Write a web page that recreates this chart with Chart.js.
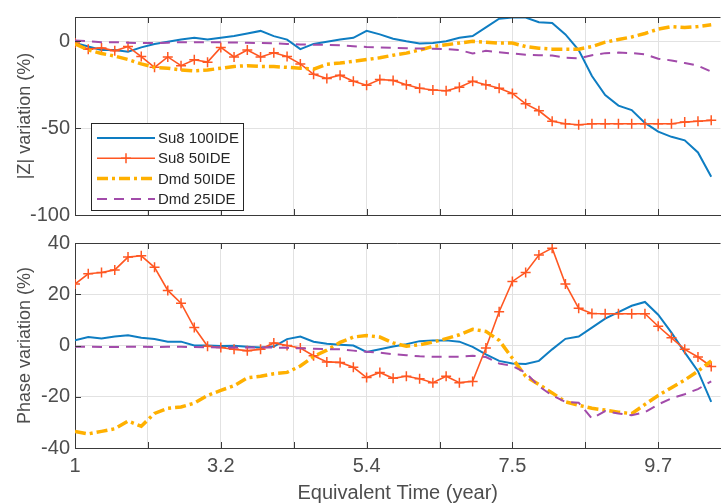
<!DOCTYPE html>
<html>
<head>
<meta charset="utf-8">
<script src="https://cdn.jsdelivr.net/npm/chart.js@4.4.1/dist/chart.umd.min.js"></script>
<style>
  body { margin: 0; background: #fff; }
  #wrap { position: relative; width: 727px; height: 503px; overflow: hidden; }
  #magBox { position: absolute; left: 0; top: 0; width: 727px; height: 232px; }
  #phaseBox { position: absolute; left: 0; top: 225px; width: 727px; height: 278px; }
</style>
</head>
<body>
<div id="wrap">
  <div id="magBox"><canvas id="magChart"></canvas></div>
  <div id="phaseBox"><canvas id="phaseChart"></canvas></div>
</div>
<script>
const years = [1.0, 1.2, 1.4, 1.6, 1.8, 2.0, 2.2, 2.4, 2.6, 2.8,
    3.0, 3.2, 3.4, 3.6, 3.8, 4.0, 4.2, 4.4, 4.6, 4.8,
    5.0, 5.2, 5.4, 5.6, 5.8, 6.0, 6.2, 6.4, 6.6, 6.8,
    7.0, 7.2, 7.4, 7.6, 7.8, 8.0, 8.2, 8.4, 8.6, 8.8,
    9.0, 9.2, 9.4, 9.6, 9.8, 10.0, 10.2, 10.4, 10.6];

const seriesNames = ['Su8 100IDE', 'Su8 50IDE', 'Dmd 50IDE', 'Dmd 25IDE'];

// |Z| variation (%)
const su8100Mag = [-1, -3, -5, -5, -6, -3.5, -1.5, -0.3, 1, 2,
    1, 2, 3, 4.5, 6, 3, 1, -4.5, -1.5, -0.3,
    1, 2, 6, 4, 1.5, 0, -1.3, -1, 0, 2,
    3, 8, 13, 13.7, 13.7, 11, 10.5, 4, -5, -20,
    -31, -37, -39.6, -47, -52, -55, -57, -64, -78];
const su850Mag = [-1, -4.5, -3.8, -5.5, -3, -8.8, -15, -9, -14, -10.6,
    -12, -3.5, -9, -5, -9, -6.6, -8.8, -13, -19, -21.4,
    -19.5, -23, -25.3, -22, -22.5, -25, -27, -28, -28.5, -26.5,
    -23, -25, -27, -30, -36, -40, -46, -47.5, -48, -47.5,
    -47.5, -47.5, -47.5, -47.5, -47.5, -47.5, -46.5, -46, -45.5];
const dmd50Mag = [-1.5, -5, -7, -8.5, -10.5, -13, -15, -15.5, -16.5, -17,
    -16.5, -15.5, -14.5, -14, -14.5, -14.5, -15, -15.5, -16, -13.2,
    -12.5, -11.5, -10.5, -9.5, -8, -6.8, -5, -3, -2, -1,
    0, -0.5, -1, -1, -3, -4, -4.5, -4.5, -4.5, -3,
    -0.5, 1, 2.5, 4.5, 7, 8.5, 8, 8.5, 9.5];
const dmd25Mag = [0.5, 0, -0.5, -0.5, -0.8, -1, -1, -0.8, -0.5, -0.5,
    -0.5, -0.6, -0.7, -0.8, -1, -1.2, -1.5, -1.8, -2, -2,
    -2.3, -2.8, -3.3, -3.5, -3.8, -4, -4.2, -4.3, -4.5, -5,
    -7, -5.5, -6.3, -7, -7.7, -8, -8.2, -9.5, -9.8, -8,
    -6.8, -6.5, -6.8, -7.5, -10, -11, -12.5, -14, -17.5];

// Phase variation (%)
const su8100Phase = [2, 3.3, 2.7, 3.5, 4, 3, 2.5, 1.5, 1.5, 0,
    0, -0.2, -0.1, -0.5, -0.8, -0.4, 2.5, 3.5, 1.5, 0.7,
    0.3, 0, -2.5, -1.5, -0.4, 0.5, 1.7, 2, 2, 1.5,
    -0.5, -3.5, -6, -7, -7.2, -6, -1.5, 2.6, 3.5, 7,
    10.5, 13, 15.5, 17, 12, 5, -2.7, -10, -22];
const su850Phase = [24, 28, 28.5, 29.5, 34.5, 35, 30.5, 21.5, 16.5, 7,
    -0.3, -0.8, -1.5, -2, -1.5, 1, 0, -1, -4, -6.4,
    -6.6, -8.5, -12.5, -10.5, -12.8, -12, -13, -14.5, -12, -14.5,
    -14, -1, 13.2, 25, 28.5, 35.3, 38, 24, 14.5, 12.5,
    12.4, 12.4, 12.4, 12.4, 7.5, 3, -1.5, -4.5, -8.2];
const dmd50Phase = [-33.5, -34.5, -33.5, -32.5, -29.5, -31.5, -26.5, -24.5, -24, -22.5,
    -19.5, -17.5, -15.7, -12.6, -12, -11, -10.5, -8, -4.3, -1.8,
    1.2, 3.3, 3.9, 3.3, 1, -0.3, 0.3, 1.3, 2.7, 4.2,
    6.3, 5.5, 2, -5, -12, -15.2, -18.5, -22, -23.3, -24.5,
    -25.2, -26, -26.6, -23, -19.5, -16.5, -13.5, -10, -6];
const dmd25Phase = [-0.5, -0.5, -0.6, -0.6, -0.5, -0.5, -0.6, -0.5, -0.5, -0.6,
    -0.7, -0.8, -0.8, -0.8, -0.8, -0.8, -0.9, -1.1, -1.3, -1.4,
    -1.5, -2, -2.4, -2.8, -3.4, -3.8, -4.2, -4.4, -4.4, -4.4,
    -4, -4.5, -7, -8, -10.6, -15.9, -19.5, -22, -22.3, -28.5,
    -25.6, -26.5, -27.2, -26, -23, -20.6, -19, -17, -14];

const xTickValues = [1, 2.1, 3.2, 4.3, 5.4, 6.5, 7.6, 8.7, 9.8];
const xTickLabels = ['1', '', '3.2', '', '5.4', '', '7.5', '', '9.7'];
const magTicks = [-100, -50, 0];
const phaseTicks = [-40, -20, 0, 20, 40];

const fontFamily = '"Liberation Sans", Arial, Helvetica, sans-serif';
const textColor = '#4d4d4d';
const axisColor = '#3a3a3a';
const gridColor = '#e2e2e2';

const styles = [
    { color: '#0E7DC2', width: 2, dash: [], point: false },
    { color: '#FF5722', width: 1.6, dash: [], point: 'cross' },
    { color: '#FFB000', width: 3.5, dash: [11, 4, 3, 4], point: false },
    { color: '#A24BAA', width: 2, dash: [10, 7], point: false }
];

function buildDatasets(seriesList) {
    return seriesList.map((values, i) => ({
        label: seriesNames[i],
        data: values.map((v, j) => ({ x: years[j], y: v })),
        borderColor: styles[i].color,
        backgroundColor: styles[i].color,
        borderWidth: styles[i].width,
        borderDash: styles[i].dash,
        pointStyle: styles[i].point || 'circle',
        pointRadius: styles[i].point ? 5 : 0,
        pointBorderWidth: 1.5,
        pointBorderColor: styles[i].color,
        tension: 0,
        fill: false,
        order: 4 - i
    }));
}

// MATLAB-like box: top edge plus inward ticks
const frameTicks = {
    id: 'frameTicks',
    afterDatasetsDraw(chart) {
        const { ctx, chartArea: a, scales: { x, y } } = chart;
        ctx.save();
        ctx.strokeStyle = axisColor;
        ctx.lineWidth = 1;
        ctx.setLineDash([]);
        ctx.beginPath();
        ctx.moveTo(a.left, Math.round(a.top) + 0.5);
        ctx.lineTo(a.right, Math.round(a.top) + 0.5);
        xTickValues.forEach(v => {
            const px = Math.round(x.getPixelForValue(v)) + 0.5;
            ctx.moveTo(px, a.bottom); ctx.lineTo(px, a.bottom - 6);
            ctx.moveTo(px, a.top); ctx.lineTo(px, a.top + 6);
        });
        y.ticks.forEach(t => {
            const py = Math.round(y.getPixelForValue(t.value)) + 0.5;
            ctx.moveTo(a.left, py); ctx.lineTo(a.left + 6, py);
        });
        ctx.stroke();
        ctx.restore();
    }
};

const legendBox = {
    id: 'legendBox',
    afterDraw(chart) {
        const { ctx } = chart;
        const left = 91, top = 123, w = 152, h = 87;
        ctx.save();
        ctx.fillStyle = '#fff';
        ctx.fillRect(left, top, w, h);
        ctx.strokeStyle = '#262626';
        ctx.lineWidth = 1;
        ctx.strokeRect(left + 0.5, top + 0.5, w, h);
        ctx.font = '15px ' + fontFamily;
        ctx.textBaseline = 'middle';
        chart.data.datasets.forEach((ds, i) => {
            const yy = top + 15 + i * 20.3;
            ctx.strokeStyle = ds.borderColor;
            ctx.lineWidth = ds.borderWidth;
            ctx.setLineDash(ds.borderDash);
            ctx.beginPath();
            ctx.moveTo(left + 6, yy);
            ctx.lineTo(left + 64, yy);
            ctx.stroke();
            ctx.setLineDash([]);
            if (ds.pointRadius > 0) {
                ctx.lineWidth = 1.5;
                ctx.beginPath();
                ctx.moveTo(left + 35 - 5, yy); ctx.lineTo(left + 35 + 5, yy);
                ctx.moveTo(left + 35, yy - 5); ctx.lineTo(left + 35, yy + 5);
                ctx.stroke();
            }
            ctx.fillStyle = '#262626';
            ctx.fillText(ds.label, left + 67, yy + 1);
        });
        ctx.restore();
    }
};

function makeChart(id, seriesList, yTicks, yMin, yMax, yTitle, isBottom) {
    const ctx = document.getElementById(id).getContext('2d');
    return new Chart(ctx, {
        type: 'line',
        data: { datasets: buildDatasets(seriesList) },
        options: {
            responsive: true,
            maintainAspectRatio: false,
            animation: false,
            layout: { padding: { top: isBottom ? 18 : 14, right: 0, left: 0, bottom: 0 } },
            plugins: { legend: { display: false }, tooltip: { enabled: false } },
            scales: {
                x: {
                    type: 'linear',
                    min: 1,
                    max: 10.74,
                    afterBuildTicks: s => { s.ticks = xTickValues.map(v => ({ value: v })); },
                    afterFit: s => { s.height = isBottom ? 55 : 12; },
                    grid: { color: gridColor, drawTicks: false },
                    border: { color: axisColor },
                    ticks: {
                        display: isBottom,
                        autoSkip: false,
                        maxRotation: 0,
                        padding: 6,
                        color: textColor,
                        font: { family: fontFamily, size: 20 },
                        callback: (v, i) => xTickLabels[i]
                    },
                    title: {
                        display: isBottom,
                        text: 'Equivalent Time (year)',
                        color: textColor,
                        font: { family: fontFamily, size: 20, lineHeight: 1 },
                        padding: { top: 0, bottom: 0 }
                    }
                },
                y: {
                    min: yMin,
                    max: yMax,
                    afterBuildTicks: s => { s.ticks = yTicks.map(v => ({ value: v })); },
                    afterFit: s => { s.width = 75; },
                    grid: { color: gridColor, drawTicks: false },
                    border: { color: axisColor },
                    ticks: {
                        padding: 5,
                        color: textColor,
                        font: { family: fontFamily, size: 20 }
                    },
                    title: {
                        display: true,
                        text: yTitle,
                        color: textColor,
                        font: { family: fontFamily, size: 18 },
                        padding: { top: 14, bottom: 0 }
                    }
                }
            }
        },
        plugins: isBottom ? [frameTicks] : [frameTicks, legendBox]
    });
}

makeChart('magChart', [su8100Mag, su850Mag, dmd50Mag, dmd25Mag], magTicks, -100, 14, '|Z| variation (%)', false);
makeChart('phaseChart', [su8100Phase, su850Phase, dmd50Phase, dmd25Phase], phaseTicks, -40, 40, 'Phase variation (%)', true);
</script>
</body>
</html>
